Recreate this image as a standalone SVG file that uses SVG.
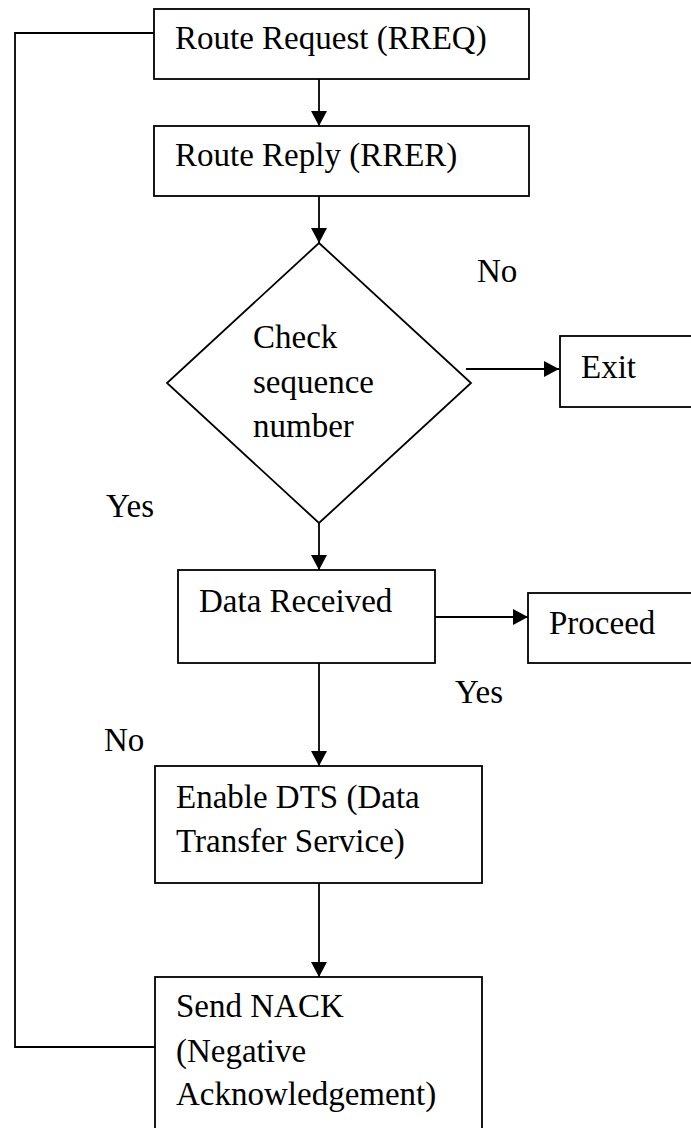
<svg xmlns="http://www.w3.org/2000/svg" width="691" height="1128" viewBox="0 0 691 1128">
<style>
.box{fill:#fff;stroke:#000;stroke-width:1.8}
.ln{fill:none;stroke:#000;stroke-width:1.8}
.t{font-family:'Liberation Serif','Times New Roman',serif;font-size:33px;fill:#000}
</style>
<defs>
<marker id="ah" viewBox="0 0 15 16" refX="15" refY="8" markerWidth="15" markerHeight="16" markerUnits="userSpaceOnUse" orient="auto">
<path d="M0,0 L15,8 L0,16 Z" fill="#000"/>
</marker>
</defs>
<rect width="691" height="1128" fill="#fff"/>
<g id="connectors">
<polyline class="ln" points="154,33 15,33 15,1047 155,1047"/>
<line class="ln" x1="319" y1="79" x2="319" y2="126" marker-end="url(#ah)"/>
<line class="ln" x1="319" y1="196" x2="319" y2="243" marker-end="url(#ah)"/>
<line class="ln" x1="466" y1="369" x2="559" y2="369" marker-end="url(#ah)"/>
<line class="ln" x1="319" y1="523" x2="319" y2="570" marker-end="url(#ah)"/>
<line class="ln" x1="435" y1="617" x2="528" y2="617" marker-end="url(#ah)"/>
<line class="ln" x1="319" y1="657" x2="319" y2="766" marker-end="url(#ah)"/>
<line class="ln" x1="319" y1="883" x2="319" y2="977" marker-end="url(#ah)"/>
</g>
<g id="rreq">
<rect class="box" x="154" y="9" width="375" height="70"/>
<text class="t" x="175" y="49">Route Request (RREQ)</text>
</g>
<g id="rrer">
<rect class="box" x="154" y="126" width="375" height="70"/>
<text class="t" x="175" y="166">Route Reply (RRER)</text>
</g>
<g id="check">
<polygon class="box" points="319,243 471,383 319,523 167,383"/>
<text class="t" x="253" y="348">Check</text>
<text class="t" x="253" y="393">sequence</text>
<text class="t" x="253" y="437">number</text>
</g>
<g id="exit">
<rect class="box" x="560" y="336" width="140" height="71"/>
<text class="t" x="581" y="378">Exit</text>
</g>
<g id="data">
<rect class="box" x="178" y="570" width="257" height="93"/>
<text class="t" x="199" y="612">Data Received</text>
</g>
<g id="proceed">
<rect class="box" x="528" y="593" width="172" height="70"/>
<text class="t" x="549" y="634">Proceed</text>
</g>
<g id="dts">
<rect class="box" x="155" y="766" width="327" height="117"/>
<text class="t" x="176" y="808">Enable DTS (Data</text>
<text class="t" x="176" y="852">Transfer Service)</text>
</g>
<g id="nack">
<rect class="box" x="155" y="977" width="327" height="170"/>
<text class="t" x="176" y="1017">Send NACK</text>
<text class="t" x="176" y="1062">(Negative</text>
<text class="t" x="176" y="1105">Acknowledgement)</text>
</g>
<g id="labels">
<text class="t" x="477" y="282">No</text>
<text class="t" x="106" y="517">Yes</text>
<text class="t" x="455" y="703">Yes</text>
<text class="t" x="104" y="751">No</text>
</g>
</svg>
